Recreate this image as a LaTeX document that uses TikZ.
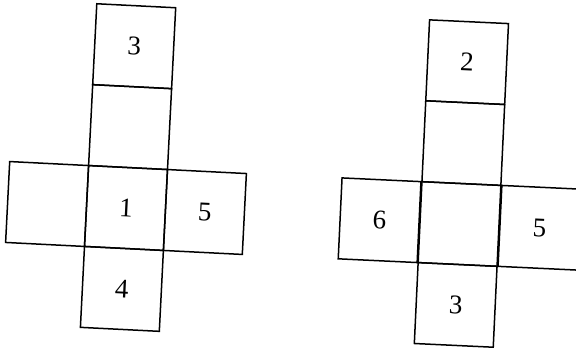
\documentclass[tikz,border=0pt]{standalone}
\usepackage{fontspec}
\setmainfont{Liberation Serif}
\usetikzlibrary{positioning}
\begin{document}
\begin{tikzpicture}[x=1pt, y=1pt,
  face/.style={rectangle, draw=black, line width=1.5pt, minimum width=79pt, minimum height=81pt, inner sep=0pt, font=\fontsize{27}{30}\selectfont, transform shape}
]
\useasboundingbox (0,0) rectangle (576,350);
\clip (0,0) rectangle (576,350);

% first net
\begin{scope}[shift={(126,142)}, rotate=-2.9]
\node[face] (a1) at (0,0) {1};
\node[face] (amid) at (0,81) {};
\node[face] (a3) at (0,162) {3};
\node[face] (aleft) at (-79,0) {};
\node[face] (a5) at (79,0) {5};
\node[face] (a4) at (0,-81) {4};
\end{scope}

% second net
\begin{scope}[shift={(459.5,126)}, rotate=-2.7]
\node[face] (bc) at (0,0) {};
\node[face] (bmid) at (0,81) {};
\node[face] (b2) at (0,162) {2};
\node[face] (b6) at (-80,0) {6};
\node[face] (b5) at (80,0) {5};
\node[face] (b3) at (0,-81) {3};
\end{scope}
\end{tikzpicture}
\end{document}
